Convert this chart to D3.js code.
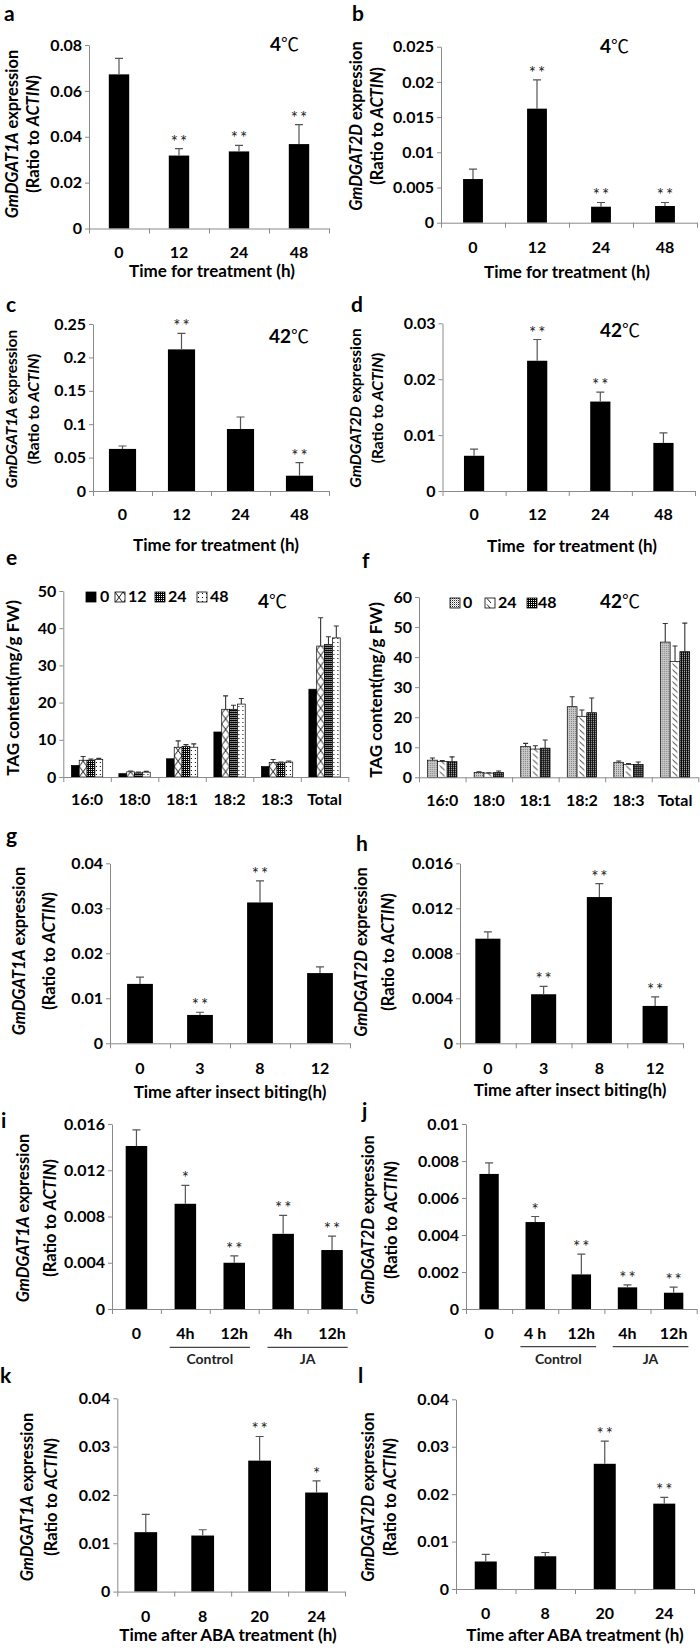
<!DOCTYPE html>
<html><head><meta charset="utf-8">
<script src="https://cdnjs.cloudflare.com/ajax/libs/d3/7.8.5/d3.min.js"></script>
<style>body{margin:0;background:#fff}svg{display:block}</style>
</head><body>
<script>
// ================= DATA =================
const timeCats = ["0", "12", "24", "48"];
const aVals = [0.0672, 0.0318, 0.0336, 0.0368];
const aErr  = [0.0070, 0.0030, 0.0026, 0.0085];
const aStars = ["", "**", "**", "**"];
const aTicks = [0, 0.02, 0.04, 0.06, 0.08];

const bVals = [0.0062, 0.0162, 0.00227, 0.00237];
const bErr  = [0.0014, 0.0041, 0.0006, 0.0005];
const bStars = ["", "**", "**", "**"];
const bTicks = [0, 0.005, 0.01, 0.015, 0.02, 0.025];

const cVals = [0.063, 0.212, 0.0928, 0.0229];
const cErr  = [0.0044, 0.024, 0.018, 0.0195];
const cStars = ["", "**", "", "**"];
const cTicks = [0, 0.05, 0.1, 0.15, 0.2, 0.25];

const dVals = [0.0063, 0.0233, 0.0160, 0.0086];
const dErr  = [0.0012, 0.0038, 0.0017, 0.0018];
const dStars = ["", "**", "**", ""];
const dTicks = [0, 0.01, 0.02, 0.03];

const faCats = ["16:0", "18:0", "18:1", "18:2", "18:3", "Total"];
const eSeries = ["0", "12", "24", "48"];
const e0  = [3.1, 0.9, 4.9, 12.1, 2.8, 23.6];
const e0Err = [0, 0, 0, 0, 0, 0];
const e12 = [4.5, 1.4, 8.0, 18.2, 3.9, 35.2];
const e12Err = [1.0, 0.2, 1.7, 3.6, 0.8, 7.6];
const e24 = [4.5, 1.1, 8.2, 18.2, 3.8, 35.6];
const e24Err = [0.3, 0.2, 0.5, 1.1, 0.2, 2.1];
const e48 = [4.7, 1.3, 8.0, 19.6, 4.0, 37.4];
const e48Err = [0.3, 0.2, 0.9, 1.5, 0.3, 3.2];
const eTicks = [0, 10, 20, 30, 40, 50];

const fSeries = ["0", "24", "48"];
const f0  = [5.7, 1.6, 10.2, 23.5, 5.0, 45.0];
const f0Err = [0.7, 0.2, 1.1, 3.3, 0.4, 6.2];
const f24 = [5.3, 1.4, 9.4, 20.3, 4.3, 38.5];
const f24Err = [0.3, 0.1, 1.1, 2.1, 0.3, 5.2];
const f48 = [5.2, 1.6, 9.7, 21.5, 4.3, 41.8];
const f48Err = [1.6, 0.5, 2.7, 4.9, 0.8, 9.5];
const fTicks = [0, 10, 20, 30, 40, 50, 60];

const biteCats = ["0", "3", "8", "12"];
const gVals = [0.0132, 0.0063, 0.0313, 0.0156];
const gErr  = [0.0015, 0.0006, 0.0048, 0.0014];
const gStars = ["", "**", "**", ""];
const gTicks = [0, 0.01, 0.02, 0.03, 0.04];

const hVals = [0.0093, 0.00436, 0.0130, 0.00332];
const hErr  = [0.0006, 0.0007, 0.0012, 0.0008];
const hStars = ["", "**", "**", "**"];
const hTicks = [0, 0.004, 0.008, 0.012, 0.016];

const iCats = ["0", "4h", "12h", "4h", "12h"];
const iVals = [0.0141, 0.0091, 0.0040, 0.0065, 0.0051];
const iErr  = [0.0014, 0.0016, 0.0006, 0.0016, 0.0012];
const iStars = ["", "*", "**", "**", "**"];
const iTicks = [0, 0.004, 0.008, 0.012, 0.016];

const jCats = ["0", "4 h", "12h", "4h", "12h"];
const jVals = [0.0073, 0.0047, 0.00187, 0.00117, 0.00088];
const jErr  = [0.0006, 0.0003, 0.0011, 0.00013, 0.0003];
const jStars = ["", "*", "**", "**", "**"];
const jTicks = [0, 0.002, 0.004, 0.006, 0.008, 0.01];

const groupNames = ["Control", "JA"];

const abaCats = ["0", "8", "20", "24"];
const kVals = [0.0123, 0.0116, 0.0271, 0.0205];
const kErr  = [0.0037, 0.0012, 0.0050, 0.0024];
const kStars = ["", "", "**", "*"];
const kTicks = [0, 0.01, 0.02, 0.03, 0.04];

const lVals = [0.0058, 0.0069, 0.0264, 0.0180];
const lErr  = [0.0015, 0.0008, 0.0048, 0.0013];
const lStars = ["", "", "**", "**"];
const lTicks = [0, 0.01, 0.02, 0.03, 0.04];

// ================= STYLE / HELPERS =================
const FONT = "Lato, 'Open Sans', 'DejaVu Sans', sans-serif";
const CJK = "'Noto Sans CJK SC', 'DejaVu Sans', sans-serif";
const AXIS = "#8a8a8a";
const ERRC = "#555";

const svg = d3.select("body").append("svg")
  .attr("width", 700).attr("height", 1648)
  .attr("font-family", FONT);
const defs = svg.append("defs");
let pid = 0;

function makeFill(type, ox, oy, bw) {
  if (type === "solid") return "#000";
  const id = "pat" + (pid++);
  const p = defs.append("pattern").attr("id", id)
    .attr("patternUnits", "userSpaceOnUse").attr("x", ox).attr("y", oy);
  let w = 2, h = 2;
  if (type === "xhatch") {
    w = bw; h = bw * 1.35;
    p.append("rect").attr("width", w).attr("height", h).attr("fill", "#fff");
    p.append("path").attr("d", `M0,0L${w},${h}M${w},0L0,${h}`)
      .attr("stroke", "#000").attr("stroke-width", 0.9).attr("fill", "none");
  } else if (type === "darkgrid") {
    w = 2; h = 2;
    p.append("rect").attr("width", w).attr("height", h).attr("fill", "#000");
    p.append("rect").attr("width", 1).attr("height", 1).attr("fill", "#fff");
  } else if (type === "sparsedots") {
    w = 4; h = 4;
    p.append("rect").attr("width", w).attr("height", h).attr("fill", "#fff");
    p.append("rect").attr("x", 1).attr("y", 1).attr("width", 1).attr("height", 1).attr("fill", "#000");
  } else if (type === "lightgrid") {
    w = 2; h = 2;
    p.append("rect").attr("width", w).attr("height", h).attr("fill", "#fff");
    p.append("rect").attr("width", 1).attr("height", 1).attr("fill", "#222");
    p.append("rect").attr("x", 1).attr("y", 1).attr("width", 1).attr("height", 1).attr("fill", "#bbb");
  } else if (type === "diag") {
    w = bw; h = 6;
    p.append("rect").attr("width", w).attr("height", h).attr("fill", "#fff");
    p.append("path").attr("d", `M${w*0.25},0.5L${w*0.75},5`)
      .attr("stroke", "#000").attr("stroke-width", 0.9).attr("fill", "none");
  }
  p.attr("width", w).attr("height", h);
  return `url(#${id})`;
}

function styleAxis(ax) {
  ax.attr("font-family", FONT).attr("font-size", null);
  ax.select(".domain").attr("stroke", AXIS).attr("stroke-width", 1);
  ax.selectAll(".tick line").attr("stroke", AXIS).attr("stroke-width", 1);
  ax.selectAll(".tick text").attr("font-size", 16).attr("font-weight", "bold")
    .attr("fill", "#000").attr("font-family", FONT);
}

function yAxis(g, y, ticks, x0) {
  const ax = g.append("g").attr("transform", `translate(${x0},0)`)
    .call(d3.axisLeft(y).tickValues(ticks).tickSize(4).tickSizeOuter(0)
      .tickPadding(3).tickFormat(d => String(d)));
  styleAxis(ax);
}

function xAxis(g, x, cats, L, y0) {
  const n = cats.length;
  const edge = d3.scaleLinear().domain([0, n]).range([L.x0, L.x1]);
  const ax = g.append("g").attr("transform", `translate(0,${y0})`)
    .call(d3.axisBottom(edge).tickValues(d3.range(n + 1)).tickSize(5)
      .tickSizeOuter(0).tickFormat(""));
  styleAxis(ax);
  const lab = g.append("g").attr("transform", `translate(0,${y0})`)
    .call(d3.axisBottom(x).tickSize(0).tickPadding(L.tickPad || 18)
      .tickFormat(i => cats[i]));
  lab.select(".domain").remove();
  styleAxis(lab);
  lab.selectAll(".tick text").style("white-space", "pre");
}

function panelLetter(t, x, y) {
  svg.append("text").attr("x", x).attr("y", y).text(t)
    .attr("font-size", 21).attr("font-weight", "bold").attr("fill", "#000");
}

function tempLabel(t, x, y) {
  const tx = svg.append("text").attr("x", x).attr("y", y).attr("font-size", 19).attr("fill", "#000");
  tx.append("tspan").attr("font-weight", "bold").text(t);
  tx.append("tspan").attr("font-family", CJK).attr("font-size", 18).text("\u2103");
}

function yLabel(lines, xs, cy, fs) {
  lines.forEach((parts, k) => {
    const t = svg.append("text")
      .attr("transform", `translate(${xs[k]},${cy}) rotate(-90)`)
      .attr("text-anchor", "middle").attr("dy", "0.35em")
      .attr("font-size", fs).attr("fill", "#000")
      .attr("font-weight", "bold");
    parts.segs.forEach(s => t.append("tspan").attr("font-style", s.i ? "italic" : "normal").text(s.t));
  });
}

function xTitle(t, x, y) {
  svg.append("text").attr("x", x).attr("y", y).attr("text-anchor", "middle")
    .style("white-space", "pre")
    .attr("font-size", 17).attr("font-weight", "bold").attr("fill", "#000").text(t);
}

function barPanel(cats, vals, errs, stars, ticks, L) {
  const g = svg.append("g");
  const pad = 1 - L.ratio;
  const x = d3.scaleBand().domain(d3.range(cats.length)).range([L.x0, L.x1])
    .paddingInner(pad).paddingOuter(pad / 2);
  const y = d3.scaleLinear().domain([0, ticks[ticks.length - 1]]).range([L.yBot, L.yTop]);
  const bw = x.bandwidth();
  g.selectAll("rect.bar").data(vals).join("rect").attr("class", "bar")
    .attr("x", (d, i) => x(i)).attr("y", d => y(d))
    .attr("width", bw).attr("height", d => y(0) - y(d)).attr("fill", "#000");
  const cap = 8;
  g.selectAll("path.err").data(vals).join("path").attr("class", "err")
    .attr("d", (d, i) => {
      const cx = x(i) + bw / 2, yt = y(d + errs[i]);
      return `M${cx},${y(d)}V${yt}M${cx - cap / 2},${yt}H${cx + cap / 2}`;
    })
    .attr("stroke", ERRC).attr("stroke-width", 1.2).attr("fill", "none");
  g.selectAll("text.star").data(stars).join("text").attr("class", "star")
    .attr("x", (d, i) => x(i) + bw / 2 + 1)
    .attr("y", (d, i) => y(vals[i] + errs[i]) - 1)
    .attr("text-anchor", "middle").attr("font-size", 17)
    .attr("letter-spacing", 2).attr("fill", "#222").text(d => d);
  yAxis(g, y, ticks, L.x0);
  xAxis(g, x, cats, L, y(0));
  return { x, y, g };
}

function groupedPanel(cats, series, valsArr, errsArr, types, ticks, L) {
  const g = svg.append("g");
  const pad = 1 - L.ratio;
  const x = d3.scaleBand().domain(d3.range(cats.length)).range([L.x0, L.x1])
    .paddingInner(pad).paddingOuter(pad / 2);
  const xs = d3.scaleBand().domain(d3.range(series.length)).range([0, x.bandwidth()]);
  const y = d3.scaleLinear().domain([0, ticks[ticks.length - 1]]).range([L.yBot, L.yTop]);
  const bw = xs.bandwidth();
  series.forEach((s, k) => {
    const vals = valsArr[k], errs = errsArr[k];
    vals.forEach((v, i) => {
      const bx = x(i) + xs(k);
      g.append("rect").attr("x", bx).attr("y", y(v)).attr("width", bw)
        .attr("height", y(0) - y(v))
        .attr("fill", makeFill(types[k], bx, y(0), bw))
        .attr("stroke", "#000").attr("stroke-width", 0.7);
      if (errs[i] > 0) {
        const cx = bx + bw / 2, yt = y(v + errs[i]);
        g.append("path").attr("d", `M${cx},${y(v)}V${yt}M${cx - 2.5},${yt}H${cx + 2.5}`)
          .attr("stroke", "#333").attr("stroke-width", 1.1).attr("fill", "none");
      }
    });
  });
  yAxis(g, y, ticks, L.x0);
  xAxis(g, x, cats, L, y(0));
}

function legend(series, types, sx, tx, top) {
  series.forEach((s, k) => {
    svg.append("rect").attr("x", sx[k]).attr("y", top).attr("width", 10).attr("height", 10)
      .attr("fill", makeFill(types[k], sx[k], top, 8)).attr("stroke", "#000").attr("stroke-width", 0.8);
    svg.append("text").attr("x", tx[k]).attr("y", top + 10).text(s)
      .attr("font-size", 16).attr("font-weight", "bold").attr("fill", "#000");
  });
}

function groupLines(res, cats, groups, yLine, yText) {
  const { x } = res;
  const step = x.step(), bw = x.bandwidth();
  groups.forEach((name, k) => {
    const i0 = 1 + 2 * k, i1 = 2 + 2 * k;
    const xa = x(i0) + bw / 2 - 0.32 * step, xb = x(i1) + bw / 2 + 0.32 * step;
    svg.append("line").attr("x1", xa).attr("x2", xb).attr("y1", yLine).attr("y2", yLine)
      .attr("stroke", "#444").attr("stroke-width", 1.2);
    svg.append("text").attr("x", (xa + xb) / 2).attr("y", yText).attr("text-anchor", "middle")
      .attr("font-size", 14).attr("font-weight", "bold").attr("fill", "#222").text(name);
  });
}

const lab1A = [{ segs: [{ t: "GmDGAT1A", i: true }, { t: " expression" }] },
               { segs: [{ t: "(Ratio to " }, { t: "ACTIN", i: true }, { t: ")" }] }];
const lab2D = [{ segs: [{ t: "GmDGAT2D", i: true }, { t: " expression" }] },
               { segs: [{ t: "(Ratio to " }, { t: "ACTIN", i: true }, { t: ")" }] }];
const labTAG = [{ segs: [{ t: "TAG content(mg/g FW)" }] }];

// ================= PANELS =================
// a
panelLetter("a", 4, 21);
barPanel(timeCats, aVals, aErr, aStars, aTicks, { x0: 89, x1: 329, yTop: 45, yBot: 228.5, ratio: 0.34, tickPad: 18 });
tempLabel("4", 270, 51);
yLabel(lab1A, [12, 33], 134, 16.5);
xTitle("Time for treatment (h)", 212, 277);

// b
panelLetter("b", 352, 21);
barPanel(timeCats, bVals, bErr, bStars, bTicks, { x0: 441, x1: 697, yTop: 46.7, yBot: 222.7, ratio: 0.31, tickPad: 18.5 });
tempLabel("4", 600, 53);
yLabel(lab2D, [356, 377], 126, 16.5);
xTitle("Time for treatment (h)", 567, 278);

// c
panelLetter("c", 6, 312);
barPanel(timeCats, cVals, cErr, cStars, cTicks, { x0: 93, x1: 329, yTop: 324, yBot: 491, ratio: 0.46, tickPad: 18 });
tempLabel("42", 269, 343);
yLabel(lab1A, [12, 34], 409, 15.5);
xTitle("Time for treatment (h)", 216, 551);

// d
panelLetter("d", 351, 312);
barPanel(timeCats, dVals, dErr, dStars, dTicks, { x0: 442.5, x1: 695, yTop: 323.3, yBot: 491, ratio: 0.32, tickPad: 18 });
tempLabel("42", 600, 337);
yLabel(lab2D, [356, 378], 408, 15.5);
xTitle("Time  for treatment (h)", 572, 552);

// e
panelLetter("e", 6, 565);
groupedPanel(faCats, eSeries, [e0, e12, e24, e48], [e0Err, e12Err, e24Err, e48Err],
  ["solid", "xhatch", "darkgrid", "sparsedots"], eTicks,
  { x0: 63.3, x1: 348.3, yTop: 591, yBot: 777, ratio: 0.66, tickPad: 17 });
legend(eSeries, ["solid", "xhatch", "darkgrid", "sparsedots"], [86, 115, 155, 197], [100, 128, 168, 210], 592);
tempLabel("4", 258, 608);
yLabel(labTAG, [13], 688, 17);

// f
panelLetter("f", 362, 568);
groupedPanel(faCats, fSeries, [f0, f24, f48], [f0Err, f24Err, f48Err],
  ["lightgrid", "diag", "darkgrid"], fTicks,
  { x0: 419, x1: 698.3, yTop: 597, yBot: 777.3, ratio: 0.63, tickPad: 17 });
legend(fSeries, ["lightgrid", "diag", "darkgrid"], [450, 485, 527], [463, 498, 538], 598);
tempLabel("42", 600, 608);
yLabel(labTAG, [376], 690, 17);

// g
panelLetter("g", 6, 843);
barPanel(biteCats, gVals, gErr, gStars, gTicks, { x0: 110, x1: 350, yTop: 863.3, yBot: 1043.3, ratio: 0.43, tickPad: 19 });
yLabel(lab1A, [19, 49], 951, 16.5);
xTitle("Time after insect biting(h)", 230, 1098);

// h
panelLetter("h", 356, 851);
barPanel(biteCats, hVals, hErr, hStars, hTicks, { x0: 460, x1: 683, yTop: 863.3, yBot: 1043.3, ratio: 0.45, tickPad: 19 });
yLabel(lab2D, [361, 388], 952, 16.5);
xTitle("Time after insect biting(h)", 570, 1096);

// i
panelLetter("i", 1, 1128);
const resI = barPanel(iCats, iVals, iErr, iStars, iTicks, { x0: 112, x1: 356.5, yTop: 1124, yBot: 1309, ratio: 0.44, tickPad: 18.5 });
groupLines(resI, iCats, groupNames, 1347.3, 1364);
yLabel(lab1A, [23, 50], 1218, 16.5);

// j
panelLetter("j", 362, 1118);
const resJ = barPanel(jCats, jVals, jErr, jStars, jTicks, { x0: 466, x1: 696.7, yTop: 1124, yBot: 1309, ratio: 0.42, tickPad: 18.5 });
groupLines(resJ, jCats, groupNames, 1346.7, 1364);
yLabel(lab2D, [368, 391], 1220, 16.5);

// k
panelLetter("k", 0, 1383);
barPanel(abaCats, kVals, kErr, kStars, kTicks, { x0: 117.3, x1: 345, yTop: 1398.3, yBot: 1591.6, ratio: 0.4, tickPad: 19 });
yLabel(lab1A, [27, 51], 1497, 16.5);
xTitle("Time after ABA treatment (h)", 228, 1641);

// l
panelLetter("l", 358, 1383);
barPanel(abaCats, lVals, lErr, lStars, lTicks, { x0: 456, x1: 694, yTop: 1399.3, yBot: 1589, ratio: 0.37, tickPad: 19 });
yLabel(lab2D, [368, 390], 1497, 16.5);
xTitle("Time after ABA treatment (h)", 575, 1641);
</script>
</body></html>
